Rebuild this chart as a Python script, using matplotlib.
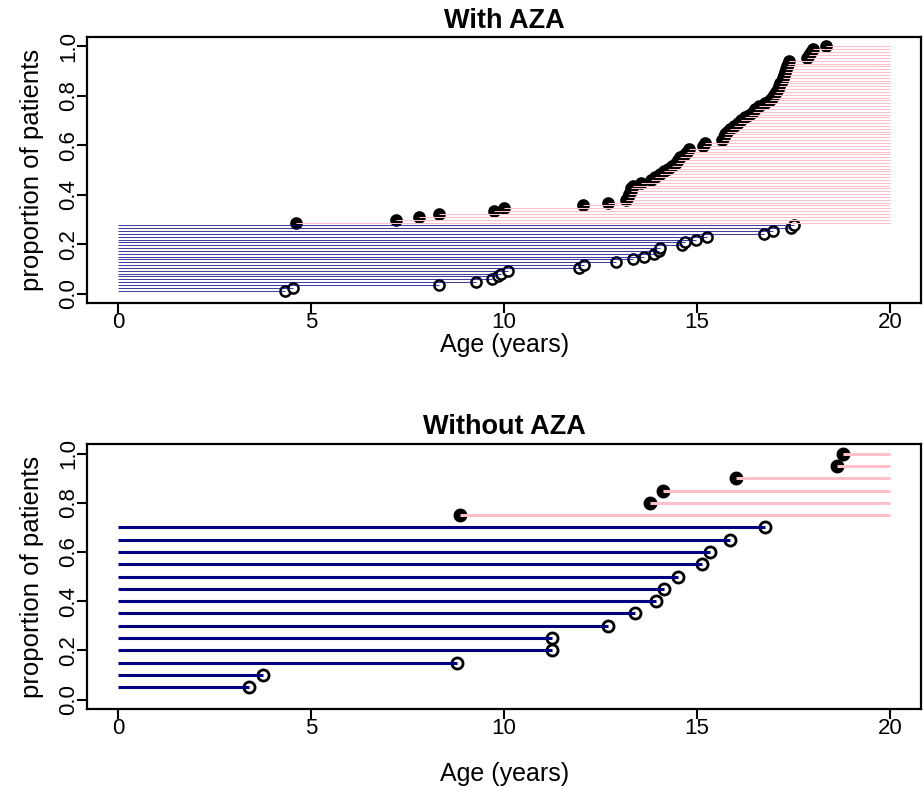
import numpy as np
import matplotlib.pyplot as plt

plt.rcParams['font.family'] = ['Liberation Sans', 'DejaVu Sans']

# --- With AZA: ages at censoring (blue) and at event (pink), n = 87 patients
aza_n = 87
aza_censored = [4.32, 4.52, 8.31, 9.27, 9.69, 9.83, 9.92, 10.11, 11.95, 12.07,
                12.91, 13.35, 13.63, 13.89, 14.01, 14.04, 14.60, 14.69, 14.97,
                15.27, 16.74, 16.98, 17.43, 17.51]
aza_events = [4.6, 7.2, 7.8, 8.3, 9.75, 10.0, 12.05, 12.7, 13.15, 13.2,
              13.25, 13.3, 13.3, 13.35, 13.55, 13.8, 13.9, 14.05, 14.15, 14.25,
              14.35, 14.45, 14.5, 14.55, 14.7, 14.75, 14.8, 15.15, 15.2, 15.65,
              15.7, 15.72, 15.78, 15.85, 15.95, 16.05, 16.15, 16.25, 16.35, 16.45,
              16.5, 16.6, 16.75, 16.9, 16.95, 17.0, 17.05, 17.1, 17.12, 17.15,
              17.2, 17.22, 17.25, 17.28, 17.3, 17.32, 17.35, 17.38, 17.85, 17.9,
              17.95, 18.0, 18.35]

# --- Without AZA, n = 20 patients
noaza_n = 20
noaza_censored = [3.39, 3.76, 8.77, 11.23, 11.23, 12.70, 13.39, 13.94, 14.15,
                  14.50, 15.12, 15.34, 15.85, 16.76]
noaza_events = [8.86, 13.78, 14.11, 16.01, 18.63, 18.79]

max_age = 20
blue = "#000080"
pink = "#FFC0CB"


def draw_panel(ax, censored, events, n, title, lw, ms, mew, line_alpha,
               xlabelpad, titlepad):
    k = np.arange(1, len(censored) + len(events) + 1) / n
    y_c = k[:len(censored)]
    y_e = k[len(censored):]

    # markers under the lines
    ax.plot(censored, y_c, 'o', mfc='white', mec='black', ms=ms, mew=mew,
            zorder=2, clip_on=False)
    ax.plot(events, y_e, 'o', mfc='black', mec='black', ms=ms, mew=mew,
            zorder=2, clip_on=False)
    ax.hlines(y_c, 0, censored, colors=blue, lw=lw, alpha=line_alpha, zorder=3)
    ax.hlines(y_e, events, max_age, colors=pink, lw=lw, zorder=3)

    ax.set_xlim(-0.8, 20.8)
    ax.set_ylim(-0.04, 1.04)
    ax.set_xticks([0, 5, 10, 15, 20])
    ax.set_yticks([0, 0.2, 0.4, 0.6, 0.8, 1.0])
    ax.set_yticklabels(["0.0", "0.2", "0.4", "0.6", "0.8", "1.0"],
                       rotation=90, va='center')
    ax.tick_params(labelsize=16, length=7, width=1.5)
    ax.tick_params(axis='y', pad=-1)
    ax.tick_params(axis='x', pad=-1)
    for s in ax.spines.values():
        s.set_linewidth(1.6)
    ax.set_title(title, fontsize=19.5, fontweight='bold', pad=titlepad)
    ax.set_xlabel("Age (years)", fontsize=18, labelpad=xlabelpad)
    ax.set_ylabel("proportion of patients", fontsize=18.5, labelpad=10)


fig = plt.figure(figsize=(9.23, 7.87), dpi=100)
ax1 = fig.add_axes([0.0947, 0.6145, 0.9029, 0.339])
ax2 = fig.add_axes([0.0947, 0.0986, 0.9029, 0.3375])

draw_panel(ax1, aza_censored, aza_events, aza_n, "With AZA",
           0.75, 7.3, 1.8, 0.75, 0, 6)
draw_panel(ax2, noaza_censored, noaza_events, noaza_n, "Without AZA",
           2.2, 8.0, 2.0, 1.0, 17, 7)

fig.savefig("out.png", dpi=100)
